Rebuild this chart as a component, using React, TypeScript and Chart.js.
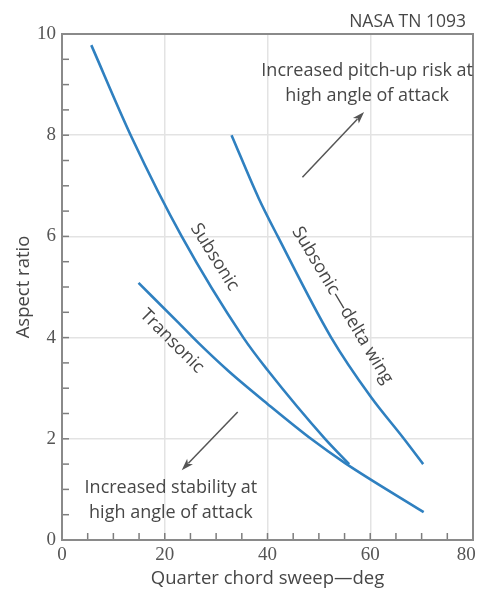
import React, { useEffect, useRef } from 'react';
import { Chart, registerables } from 'chart.js';

Chart.register(...registerables);

// Curves (x = quarter chord sweep in deg, y = aspect ratio)
const subsonicX = [5.7, 13.6, 23.3, 35.3, 40.0, 51.2, 55.9];
const subsonicY = [9.78, 7.95, 6.0, 4.0, 3.36, 2.0, 1.5];
const deltaX = [33.0, 38.3, 42.0, 52.4, 60.1, 66.4, 70.3];
const deltaY = [8.0, 6.75, 6.0, 4.0, 2.83, 2.02, 1.5];
const transonicX = [14.9, 22.7, 26.6, 32.5, 40.0, 48.6, 55.1, 70.4];
const transonicY = [5.08, 4.29, 3.89, 3.33, 2.69, 1.99, 1.52, 0.55];

// Axes
const xMin = 0, xMax = 80, xStep = 5, xLabelEvery = 20;
const yMin = 0, yMax = 10, yStep = 0.5, yLabelEvery = 2;

// Annotations (data coordinates)
const upperNote = ['Increased pitch-up risk at', 'high angle of attack'];
const upperNoteAt = [59.4, 9.27, 8.77];
const lowerNote = ['Increased stability at', 'high angle of attack'];
const lowerNoteAt = [21.2, 1.03, 0.53];
const upperArrow = [46.8, 7.17, 58.8, 8.46];
const lowerArrow = [34.2, 2.53, 23.3, 1.38];
const curveLabels = ['Subsonic', 'Transonic', 'Subsonic\u2014delta wing'];
const curveLabelX = [29.7, 21.4, 54.6];
const curveLabelY = [5.59, 3.93, 4.64];
const curveLabelAngle = [58, 45, 59];
const sourceNote = 'NASA TN 1093';

const LINE_COLOR = '#2f80c0';
const TEXT_COLOR = '#474747';
const SANS = '"Open Sans", "Noto Sans", sans-serif';

const toPts = (xs: number[], ys: number[]) => xs.map((x, i) => ({ x, y: ys[i] }));

const annotPlugin = {
  id: 'annot',
  afterDraw(chart: any) {
    const { ctx, chartArea: a, scales } = chart;
    const x = scales.x, y = scales.y;
    ctx.save();
    // minor ticks, inward
    ctx.strokeStyle = '#7d7d7d';
    ctx.lineWidth = 1.5;
    x.ticks.forEach((t: any) => {
      const px = x.getPixelForValue(t.value);
      ctx.beginPath();
      ctx.moveTo(px, a.bottom);
      ctx.lineTo(px, a.bottom - 7);
      ctx.stroke();
    });
    y.ticks.forEach((t: any) => {
      const py = y.getPixelForValue(t.value);
      ctx.beginPath();
      ctx.moveTo(a.left, py);
      ctx.lineTo(a.left + 7, py);
      ctx.stroke();
    });
    // frame
    ctx.strokeStyle = '#8a8a8a';
    ctx.lineWidth = 2;
    ctx.strokeRect(a.left, a.top, a.right - a.left, a.bottom - a.top);

    // arrows
    const arrow = (arr: number[]) => {
      const x1 = x.getPixelForValue(arr[0]), y1 = y.getPixelForValue(arr[1]);
      const x2 = x.getPixelForValue(arr[2]), y2 = y.getPixelForValue(arr[3]);
      const ang = Math.atan2(y2 - y1, x2 - x1);
      const L = 12, W = 4;
      ctx.strokeStyle = '#555';
      ctx.fillStyle = '#555';
      ctx.lineWidth = 1.5;
      ctx.beginPath();
      ctx.moveTo(x1, y1);
      ctx.lineTo(x2 - Math.cos(ang) * L * 0.8, y2 - Math.sin(ang) * L * 0.8);
      ctx.stroke();
      ctx.beginPath();
      ctx.moveTo(x2, y2);
      ctx.lineTo(x2 - Math.cos(ang) * L - Math.sin(ang) * W, y2 - Math.sin(ang) * L + Math.cos(ang) * W);
      ctx.lineTo(x2 - Math.cos(ang) * L * 0.75, y2 - Math.sin(ang) * L * 0.75);
      ctx.lineTo(x2 - Math.cos(ang) * L + Math.sin(ang) * W, y2 - Math.sin(ang) * L - Math.cos(ang) * W);
      ctx.closePath();
      ctx.fill();
    };
    arrow(upperArrow);
    arrow(lowerArrow);

    // notes
    ctx.fillStyle = TEXT_COLOR;
    ctx.font = `18px ${SANS}`;
    ctx.textAlign = 'center';
    ctx.textBaseline = 'middle';
    upperNote.forEach((s, i) => ctx.fillText(s, x.getPixelForValue(upperNoteAt[0]), y.getPixelForValue(upperNoteAt[i + 1])));
    lowerNote.forEach((s, i) => ctx.fillText(s, x.getPixelForValue(lowerNoteAt[0]), y.getPixelForValue(lowerNoteAt[i + 1])));

    // curve labels
    ctx.font = `18px ${SANS}`;
    curveLabels.forEach((s, i) => {
      ctx.save();
      ctx.translate(x.getPixelForValue(curveLabelX[i]), y.getPixelForValue(curveLabelY[i]));
      ctx.rotate((curveLabelAngle[i] * Math.PI) / 180);
      ctx.fillText(s, 0, 0);
      ctx.restore();
    });

    // source
    ctx.font = `17.5px ${SANS}`;
    ctx.textAlign = 'right';
    ctx.fillText(sourceNote, a.right - 7, a.top - 12);
    ctx.restore();
  },
};

export default function App() {
  const ref = useRef<HTMLCanvasElement>(null);
  useEffect(() => {
    const seriesStyle = {
      showLine: true,
      borderColor: LINE_COLOR,
      borderWidth: 2.6,
      pointRadius: 0,
      cubicInterpolationMode: 'monotone' as const,
      fill: false,
    };
    const chart = new Chart(ref.current!, {
      type: 'scatter',
      data: {
        datasets: [
          { label: curveLabels[0], data: toPts(subsonicX, subsonicY), ...seriesStyle },
          { label: curveLabels[1], data: toPts(transonicX, transonicY), ...seriesStyle },
          { label: curveLabels[2], data: toPts(deltaX, deltaY), ...seriesStyle },
        ],
      },
      options: {
        animation: false,
        responsive: false,
        devicePixelRatio: 1,
        layout: { autoPadding: false, padding: { top: 34, right: 4, left: 0, bottom: 0 } },
        plugins: { legend: { display: false }, tooltip: { enabled: false } },
        scales: {
          x: {
            type: 'linear',
            min: xMin,
            max: xMax,
            afterFit: (s: any) => { s.height = 50; s.paddingLeft = 0; s.paddingRight = 0; },
            border: { display: false },
            grid: {
              drawTicks: false,
              lineWidth: 1.5,
              color: (c: any) => {
                const v = c.tick?.value;
                return v % xLabelEvery === 0 && v !== xMin && v !== xMax ? '#e3e3e3' : 'rgba(0,0,0,0)';
              },
            },
            ticks: {
              stepSize: xStep,
              autoSkip: false,
              maxRotation: 0,
              padding: 4,
              color: '#555',
              font: { family: '"Liberation Serif", serif', size: 19 },
              callback: (v: any) => {
                const n = Number(v);
                if (n % xLabelEvery !== 0) return '';
                // keep the last label inside the canvas
                return n === xMax ? String(v) + '\u2002\u2009' : String(v);
              },
            },
            title: {
              display: true,
              text: 'Quarter chord sweep\u2014deg',
              color: TEXT_COLOR,
              font: { family: SANS, size: 18.5 },
              padding: { top: 0, bottom: 0 },
            },
          },
          y: {
            type: 'linear',
            min: yMin,
            max: yMax,
            afterFit: (s: any) => { s.width = 62; s.paddingTop = 0; s.paddingBottom = 0; },
            border: { display: false },
            grid: {
              drawTicks: false,
              lineWidth: 1.5,
              color: (c: any) => {
                const v = c.tick?.value;
                return v % yLabelEvery === 0 && v !== yMin && v !== yMax ? '#e3e3e3' : 'rgba(0,0,0,0)';
              },
            },
            ticks: {
              stepSize: yStep,
              autoSkip: false,
              padding: 6,
              color: '#555',
              font: { family: '"Liberation Serif", serif', size: 19 },
              callback: (v: any) => (Number(v) % yLabelEvery === 0 ? String(v) : ''),
            },
            title: {
              display: true,
              text: 'Aspect ratio',
              color: TEXT_COLOR,
              font: { family: SANS, size: 18.5 },
              padding: { top: 13, bottom: 0 },
            },
          },
        },
      },
      plugins: [annotPlugin],
    });
    return () => chart.destroy();
  }, []);
  return (
    <div style={{ position: 'absolute', left: 0, top: 0, width: 477, height: 590, background: '#fff' }}>
      <canvas ref={ref} width={477} height={590} style={{ width: 477, height: 590, display: 'block' }} />
    </div>
  );
}
